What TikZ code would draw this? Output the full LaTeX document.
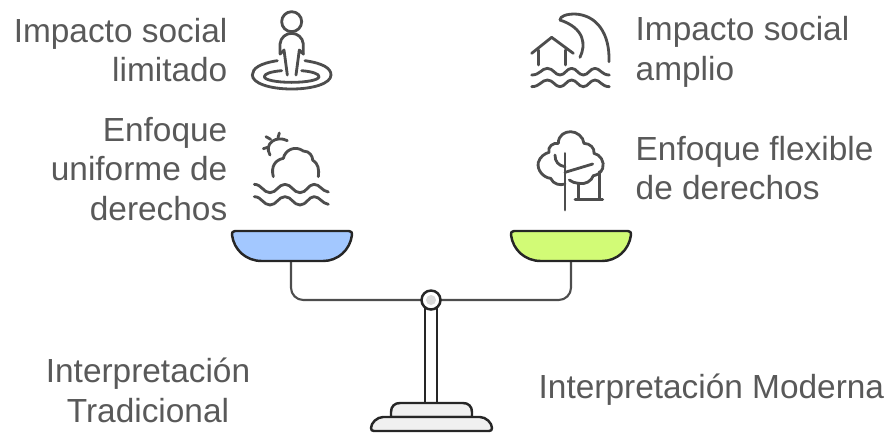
\documentclass[tikz,border=0pt]{standalone}
\usepackage{fontspec}
\setmainfont{Liberation Sans}
\definecolor{txtgray}{HTML}{595959}
\definecolor{icongray}{HTML}{4D4D4D}
\definecolor{panblue}{HTML}{A3C8FF}
\definecolor{panlime}{HTML}{D2FB76}
\definecolor{ink}{HTML}{262626}
\tikzset{
	lbl/.style={inner sep=0, text=txtgray, font=\fontsize{9.5}{11.3}\selectfont},
	icon/.style={draw=icongray, line width=0.8pt, line cap=round, line join=round},
	pan/.style={draw=ink, line width=0.7pt, line join=round},
	beam/.style={draw=icongray, line width=0.6pt, rounded corners=3.5},
	stand/.style={draw=ink, line width=0.7pt, fill=#1, line join=round},
}
\begin{document}
\begin{tikzpicture}[x=0.01cm,y=-0.01cm]
		\useasboundingbox (0,0) rectangle (884,435);
		\node[lbl,anchor=east,align=right] at (228,50)(limitado){Impacto social\\limitado};
		\node[lbl,anchor=west,align=left] at (635,52)(amplio){Impacto social\\amplio};
		\node[lbl,anchor=east,align=right] at (228,169)(uniforme){Enfoque\\uniforme de\\derechos};
		\node[lbl,anchor=west,align=left] at (635,168)(flexible){Enfoque flexible\\de derechos};
		\node[lbl,align=center] at (148,390)(tradicional){Interpretación\\Tradicional};
		\node[lbl,anchor=west] at (538,390)(moderna){Interpretación Moderna};
		\begin{scope}[shift={(220,0)},scale=1/3]
			\draw[icon] (215,65) circle (30);
			\draw[icon] (180,162)--(180,132) .. controls (182,112) and (198,100) .. (215,100)
				.. controls (232,100) and (248,112) .. (250,132)--(250,162);
			\draw[icon] (180,162)--(192,150)--(202,225);
			\draw[icon] (250,162)--(238,150)--(228,225);
			\draw[icon] (172,182) .. controls (120,190) and (97,205) .. (97,225)
				.. controls (97,250) and (150,267) .. (215,267)
				.. controls (280,267) and (333,250) .. (333,225)
				.. controls (333,205) and (310,190) .. (255,182);
			\draw[icon] (185,212) .. controls (150,215) and (133,222) .. (133,230)
				.. controls (133,240) and (170,247) .. (215,247)
				.. controls (260,247) and (297,240) .. (297,230)
				.. controls (297,222) and (280,215) .. (245,212);
		\end{scope}
		\begin{scope}[shift={(510,0)},scale=1/3]
			\draw[icon] (65,160)--(125,112)--(190,160);
			\draw[icon] (85,150)--(85,195);
			\draw[icon] (167,150)--(167,195);
			\draw[icon] (210,172) .. controls (228,135) and (225,85) .. (150,60);
			\draw[icon] (150,60) .. controls (150,48) and (170,42) .. (195,42)
				.. controls (260,45) and (300,100) .. (297,185);
			\foreach \yy in {225,260}{
				\draw[icon] (65,\yy) .. controls (90,\yy) and (95,\yy-20) .. (112,\yy-20)
					.. controls (130,\yy-20) and (135,\yy) .. (150,\yy)
					.. controls (165,\yy) and (170,\yy-20) .. (185,\yy-20)
					.. controls (200,\yy-20) and (205,\yy) .. (220,\yy)
					.. controls (235,\yy) and (240,\yy-20) .. (255,\yy-20)
					.. controls (270,\yy-20) and (275,\yy) .. (298,\yy);
			}
		\end{scope}
		\begin{scope}[shift={(220,115)},scale=1/3]
			\draw[icon] (202,77) .. controls (170,60) and (130,85) .. (150,120);
			\draw[icon] (138,65)--(152,73);
			\draw[icon] (178,54)--(174,68);
			\draw[icon] (130,101)--(143,97);
			\draw[icon] (160,185) .. controls (152,155) and (165,135) .. (190,130)
				.. controls (195,105) and (225,90) .. (250,108)
				.. controls (270,108) and (278,125) .. (278,135)
				.. controls (295,145) and (298,165) .. (295,185);
			\foreach \yy in {208,245}{
				\draw[icon] (103,\yy) .. controls (125,\yy) and (130,\yy+25) .. (150,\yy+25)
					.. controls (170,\yy+25) and (175,\yy) .. (195,\yy)
					.. controls (215,\yy) and (220,\yy+25) .. (240,\yy+25)
					.. controls (260,\yy+25) and (265,\yy) .. (282,\yy)
					.. controls (300,\yy) and (305,\yy+20) .. (325,\yy+23);
			}
		\end{scope}
		\begin{scope}[shift={(510,115)},scale=1/3]
			\draw[icon] (165,207) .. controls (150,212) and (130,208) .. (122,190)
				.. controls (100,188) and (80,165) .. (85,142)
				.. controls (90,125) and (105,115) .. (117,112)
				.. controls (112,95) and (130,82) .. (145,85)
				.. controls (145,60) and (165,50) .. (182,50)
				.. controls (200,50) and (220,65) .. (222,85)
				.. controls (240,85) and (255,100) .. (252,115)
				.. controls (270,118) and (285,140) .. (278,160)
				.. controls (272,175) and (262,180) .. (250,182)
				.. controls (245,198) and (225,210) .. (205,205)
				.. controls (195,205) and (185,200) .. (178,195);
			\draw[icon] (165,115)--(165,285);
			\draw[icon] (165,172)--(248,147);
			\draw[icon] (135,120) .. controls (135,140) and (145,152) .. (165,155);
			\draw[icon] (205,205)--(205,253);
			\draw[icon] (268,170)--(268,253);
			\draw[icon] (195,253)--(278,253);
		\end{scope}
		\coordinate (panleft) at (291,261);
		\coordinate (panright) at (571,261);
		\draw[stand=white] (425,303) rectangle (437,404);
		\path[beam] (panleft) |- (431,300);
		\path[beam] (panright) |- (431,300);
		\fill[pan,fill=panblue] (235,231)--(349,231) .. controls (352,231) and (352,233) .. (352,235)
			.. controls (350,250) and (338,261) .. (323,261)
			--(262,261) .. controls (246,261) and (234,250) .. (232,235) .. controls (232,233) and (232,231) .. (235,231)--cycle;
		\fill[pan,fill=panlime] (514,231)--(628,231) .. controls (631,231) and (631,233) .. (631,235)
			.. controls (629,250) and (617,261) .. (602,261)
			--(541,261) .. controls (525,261) and (513,250) .. (511,235) .. controls (511,233) and (511,231) .. (514,231)--cycle;
		\draw[stand=black!6] (391,417)--(391,412) .. controls (391,406) and (395,403) .. (400,403)
			--(463,403) .. controls (468,403) and (472,406) .. (472,412)--(472,417)--cycle;
		\draw[stand=black!6] (383,417)--(480,417) .. controls (486,417) and (492,423) .. (492,428)
			.. controls (492,430) and (491,431) .. (489,431)--(374,431)
			.. controls (372,431) and (371,430) .. (371,428) .. controls (371,423) and (377,417) .. (383,417)--cycle;
		\node[circle,draw=ink,line width=0.7pt,fill=white,minimum size=19*0.01cm,inner sep=0] at (431,300)(pivot){};
		\fill[black!15] (pivot) circle (5);
	\end{tikzpicture}
\end{document}
